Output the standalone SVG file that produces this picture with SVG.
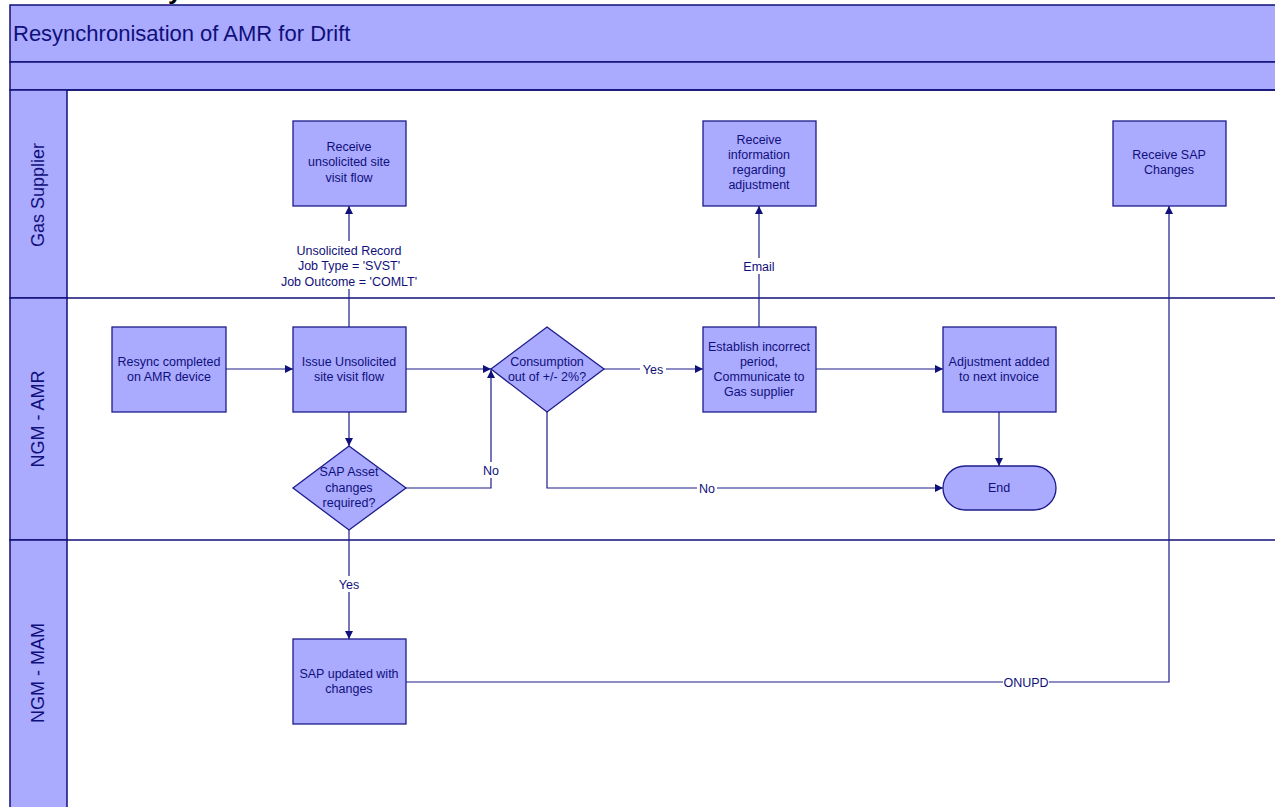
<svg xmlns="http://www.w3.org/2000/svg" width="1275" height="807" viewBox="0 0 1275 807">
  <style>
    .band { fill: #aaaaff; stroke: #10107a; stroke-width: 1.5; }
    .lane { fill: none; stroke: #10107a; stroke-width: 1.5; }
    .box { fill: #aaaaff; stroke: #1c1c8a; stroke-width: 1.3; }
    .t { font-family: "Liberation Sans", Arial, sans-serif; font-size: 12.5px; fill: #10107a; text-anchor: middle; }
    .lbl { font-family: "Liberation Sans", Arial, sans-serif; font-size: 12.5px; fill: #10107a; text-anchor: middle; }
    .lanetxt { font-family: "Liberation Sans", Arial, sans-serif; font-size: 18px; fill: #10107a; text-anchor: middle; }
    .title { font-family: "Liberation Sans", Arial, sans-serif; font-size: 22px; fill: #10107a; }
    .conn { fill: none; stroke: #1c1c8a; stroke-width: 1.2; }
    .gap { fill: #ffffff; }
  </style>
  <defs>
    <marker id="arrow" viewBox="0 0 10 10" refX="10" refY="5" markerWidth="8" markerHeight="8" markerUnits="userSpaceOnUse" orient="auto">
      <path d="M0,0 L10,5 L0,10 Z" fill="#10107a"/>
    </marker>
  </defs>

  <rect width="1275" height="807" fill="#ffffff"/>

  <!-- heading fragment above the pool -->
  <text x="168" y="-1" font-family="Liberation Sans, Arial, sans-serif" font-size="26" font-weight="bold" fill="#000000">y</text>

  <!-- pool header -->
  <g id="pool-header">
    <rect class="band" x="10" y="5" width="1275" height="57"/>
    <rect class="band" x="10" y="62" width="1275" height="28"/>
    <text class="title" x="13" y="41">Resynchronisation of AMR for Drift</text>
  </g>

  <!-- swimlanes -->
  <g id="lane-gas-supplier">
    <rect class="band" x="10" y="90" width="57" height="208"/>
    <line class="lane" x1="67" y1="90" x2="1275" y2="90"/>
    <text class="lanetxt" transform="translate(44,195) rotate(-90)">Gas Supplier</text>
  </g>
  <g id="lane-ngm-amr">
    <rect class="band" x="10" y="298" width="57" height="242"/>
    <line class="lane" x1="67" y1="298" x2="1275" y2="298"/>
    <text class="lanetxt" transform="translate(44,419) rotate(-90)">NGM - AMR</text>
  </g>
  <g id="lane-ngm-mam">
    <rect class="band" x="10" y="540" width="57" height="280"/>
    <line class="lane" x1="67" y1="540" x2="1275" y2="540"/>
    <text class="lanetxt" transform="translate(44,673) rotate(-90)">NGM - MAM</text>
  </g>

  <!-- connectors -->
  <g id="connectors">
    <line class="conn" x1="226" y1="369" x2="293" y2="369" marker-end="url(#arrow)"/>
    <line class="conn" x1="406" y1="369" x2="491" y2="369" marker-end="url(#arrow)"/>
    <line class="conn" x1="349" y1="412" x2="349" y2="446" marker-end="url(#arrow)"/>
    <polyline class="conn" points="406,488 491,488 491,370" marker-end="url(#arrow)"/>
    <line class="conn" x1="604" y1="369" x2="703" y2="369" marker-end="url(#arrow)"/>
    <polyline class="conn" points="547,412 547,488 943,488" marker-end="url(#arrow)"/>
    <line class="conn" x1="816" y1="369" x2="943" y2="369" marker-end="url(#arrow)"/>
    <line class="conn" x1="759" y1="327" x2="759" y2="206" marker-end="url(#arrow)"/>
    <line class="conn" x1="999" y1="412" x2="999" y2="466" marker-end="url(#arrow)"/>
    <line class="conn" x1="349" y1="327" x2="349" y2="206" marker-end="url(#arrow)"/>
    <line class="conn" x1="349" y1="530" x2="349" y2="639" marker-end="url(#arrow)"/>
    <polyline class="conn" points="406,682 1169,682 1169,206" marker-end="url(#arrow)"/>

    <!-- connector labels -->
    <rect class="gap" x="275" y="241" width="148" height="48"/>
    <text class="lbl" x="349" y="255">Unsolicited Record</text>
    <text class="lbl" x="349" y="270">Job Type = 'SVST'</text>
    <text class="lbl" x="349" y="286">Job Outcome = 'COMLT'</text>

    <rect class="gap" x="741" y="258" width="36" height="16"/>
    <text class="lbl" x="759" y="271">Email</text>

    <rect class="gap" x="640" y="361" width="26" height="16"/>
    <text class="lbl" x="653" y="374">Yes</text>

    <rect class="gap" x="481" y="462" width="20" height="16"/>
    <text class="lbl" x="491" y="475">No</text>

    <rect class="gap" x="697" y="480" width="20" height="16"/>
    <text class="lbl" x="707" y="493">No</text>

    <rect class="gap" x="336" y="576" width="26" height="16"/>
    <text class="lbl" x="349" y="589">Yes</text>

    <rect class="gap" x="1003" y="674" width="46" height="16"/>
    <text class="lbl" x="1026" y="687">ONUPD</text>
  </g>

  <!-- nodes -->
  <g id="receive-unsolicited">
    <rect class="box" x="293" y="121" width="113" height="85"/>
    <text class="t" x="349" y="151">Receive</text>
    <text class="t" x="349" y="166">unsolicited site</text>
    <text class="t" x="349" y="182">visit flow</text>
  </g>
  <g id="receive-information">
    <rect class="box" x="703" y="121" width="113" height="85"/>
    <text class="t" x="759" y="144">Receive</text>
    <text class="t" x="759" y="159">information</text>
    <text class="t" x="759" y="174">regarding</text>
    <text class="t" x="759" y="189">adjustment</text>
  </g>
  <g id="receive-sap-changes">
    <rect class="box" x="1113" y="121" width="113" height="85"/>
    <text class="t" x="1169" y="159">Receive SAP</text>
    <text class="t" x="1169" y="174">Changes</text>
  </g>
  <g id="resync-completed">
    <rect class="box" x="112" y="327" width="114" height="85"/>
    <text class="t" x="169" y="366">Resync completed</text>
    <text class="t" x="169" y="381">on AMR device</text>
  </g>
  <g id="issue-unsolicited">
    <rect class="box" x="293" y="327" width="113" height="85"/>
    <text class="t" x="349" y="366">Issue Unsolicited</text>
    <text class="t" x="349" y="381">site visit flow</text>
  </g>
  <g id="consumption-check">
    <polygon class="box" points="547,327 604,369 547,412 491,369"/>
    <text class="t" x="547" y="366">Consumption</text>
    <text class="t" x="547" y="381">out of +/- 2%?</text>
  </g>
  <g id="establish-period">
    <rect class="box" x="703" y="327" width="113" height="85"/>
    <text class="t" x="759" y="351">Establish incorrect</text>
    <text class="t" x="759" y="366">period,</text>
    <text class="t" x="759" y="381">Communicate to</text>
    <text class="t" x="759" y="396">Gas supplier</text>
  </g>
  <g id="adjustment-added">
    <rect class="box" x="943" y="327" width="113" height="85"/>
    <text class="t" x="999" y="366">Adjustment added</text>
    <text class="t" x="999" y="381">to next invoice</text>
  </g>
  <g id="sap-asset-check">
    <polygon class="box" points="349,446 406,488 349,530 293,488"/>
    <text class="t" x="349" y="476">SAP Asset</text>
    <text class="t" x="349" y="492">changes</text>
    <text class="t" x="349" y="507">required?</text>
  </g>
  <g id="end">
    <rect class="box" x="943" y="466" width="113" height="44" rx="22" ry="22"/>
    <text class="t" x="999" y="492">End</text>
  </g>
  <g id="sap-updated">
    <rect class="box" x="293" y="639" width="113" height="85"/>
    <text class="t" x="349" y="678">SAP updated with</text>
    <text class="t" x="349" y="693">changes</text>
  </g>
</svg>
